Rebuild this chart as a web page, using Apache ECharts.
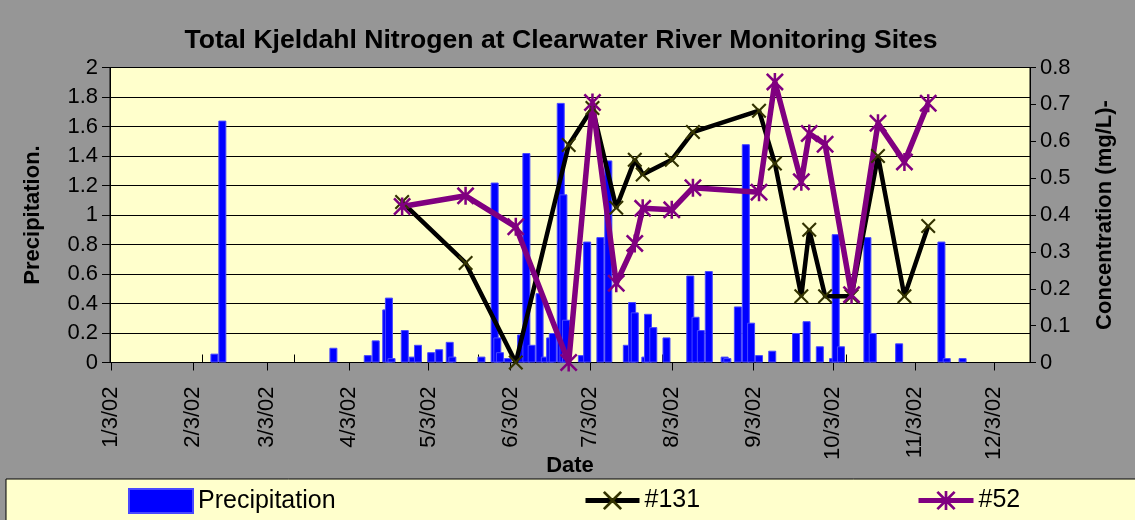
<!DOCTYPE html>
<html><head><meta charset="utf-8">
<script src="https://cdn.jsdelivr.net/npm/echarts@6/dist/echarts.min.js"></script>
<style>html,body{margin:0;padding:0;background:#ffffff}#c{width:1135px;height:520px}</style>
</head><body><div id="c"></div>
<script>
// ---- data ----
const monthTicks = ['1/3/02','2/3/02','3/3/02','4/3/02','5/3/02','6/3/02','7/3/02','8/3/02','9/3/02','10/3/02','11/3/02','12/3/02'];
const axisStart = [2002, 0, 3];
const axisEnd = [2002, 11, 16];

const precipDates = ['2/11/02','2/14/02','3/28/02','4/10/02','4/13/02','4/17/02','4/18/02','4/19/02','4/24/02','4/27/02','4/29/02',
  '5/4/02','5/7/02','5/11/02','5/12/02','5/23/02','5/28/02','5/29/02','5/30/02','6/2/02','6/7/02','6/9/02','6/11/02','6/14/02',
  '6/16/02','6/18/02','6/19/02','6/22/02','6/23/02','6/24/02','6/30/02','7/2/02','7/7/02','7/10/02','7/17/02','7/19/02','7/20/02',
  '7/24/02','7/25/02','7/27/02','8/1/02','8/10/02','8/12/02','8/14/02','8/17/02','8/23/02','8/24/02','8/28/02','8/31/02','9/2/02',
  '9/5/02','9/10/02','9/19/02','9/23/02','9/28/02','10/3/02','10/4/02','10/6/02','10/16/02','10/18/02','10/28/02','11/13/02',
  '11/15/02','11/21/02'];
const precipValues = [0.06,1.64,0.10,0.05,0.15,0.36,0.44,0.03,0.22,0.04,0.12,
  0.07,0.09,0.14,0.04,0.04,1.22,0.17,0.07,0.03,0.19,1.42,0.12,0.47,
  0.04,0.17,0.20,1.76,1.14,0.29,0.05,0.82,0.85,1.37,0.12,0.41,0.34,
  0.04,0.33,0.24,0.17,0.59,0.31,0.22,0.62,0.04,0.03,0.38,1.48,0.27,
  0.05,0.08,0.20,0.28,0.11,0.03,0.87,0.11,0.85,0.20,0.13,0.82,
  0.03,0.03];

const sampleDates = ['4/23/02','5/17/02','6/5/02','6/25/02','7/4/02','7/13/02','7/20/02','7/23/02','8/3/02','8/11/02',
  '9/5/02','9/11/02','9/21/02','9/24/02','9/30/02','10/10/02','10/20/02','10/30/02','11/8/02'];
const site131 = [0.435,0.27,0.0,0.59,0.69,0.42,0.55,0.51,0.55,0.625,0.683,0.54,0.18,0.36,0.18,0.18,0.56,0.18,0.37];
const site52  = [0.423,0.452,0.368,0.0,0.705,0.215,0.323,0.418,0.414,0.474,0.462,0.761,0.49,0.621,0.592,0.184,0.649,0.544,0.703];

// ---- build ----
function fmt(d){return (d.getUTCMonth()+1)+'/'+d.getUTCDate()+'/'+String(d.getUTCFullYear()).slice(2);}
const categories = [];
for (let t = Date.UTC(...axisStart); t <= Date.UTC(...axisEnd); t += 86400000) categories.push(fmt(new Date(t)));
const isMonthTick = (i, v) => monthTicks.indexOf(v) >= 0;

const XSYM = 'path://M2,0L10,8L18,0L20,2L12,10L20,18L18,20L10,12L2,20L0,18L8,10L0,2Z';
const STAR = 'path://M2,0L10,8L18,0L20,2L12,10L20,18L18,20L10,12L2,20L0,18L8,10L0,2Z M8.6,0L11.4,0L11.4,20L8.6,20Z';
const FONT = '"Liberation Sans", Arial, sans-serif';

const chart = echarts.init(document.getElementById('c'), null, {renderer: 'canvas'});
chart.setOption({
  animation: false,
  backgroundColor: '#969696',
  textStyle: {fontFamily: FONT, color: '#000'},
  title: {
    text: 'Total Kjeldahl Nitrogen at Clearwater River Monitoring Sites',
    left: 556, top: 22, textAlign: 'center',
    textStyle: {fontFamily: FONT, fontSize: 26.6, fontWeight: 'bold', color: '#000'}
  },
  graphic: [{
    type: 'rect', z: 0, shape: {x: 6, y: 479, width: 1140, height: 50},
    style: {fill: '#FFFFCC', stroke: '#000', lineWidth: 1}
  }],
  legend: [
    {data: ['Precipitation'], left: 128, top: 488, padding: 0, itemWidth: 64, itemHeight: 24, icon: 'rect',
     textStyle: {fontFamily: FONT, fontSize: 25, color: '#000'}},
    {data: ['#131'], left: 583, top: 488, padding: 0, itemWidth: 54, itemHeight: 24,
     lineStyle: {width: 5, color: '#000'}, itemStyle: {color: '#333300'},
     textStyle: {fontFamily: FONT, fontSize: 25, color: '#000'}},
    {data: ['#52'], left: 916, top: 488, padding: 0, itemWidth: 55, itemHeight: 24,
     lineStyle: {width: 5, color: '#800080'}, itemStyle: {color: '#800080'},
     textStyle: {fontFamily: FONT, fontSize: 25, color: '#000'}}
  ],
  grid: {left: 110, right: 105, top: 67.5, bottom: 157.5, show: true, backgroundColor: '#FFFFCC', borderColor: '#000', borderWidth: 1},
  xAxis: [{
    type: 'category', data: categories, boundaryGap: true,
    name: 'Date', nameLocation: 'middle', nameGap: 92, nameMoveOverlap: false,
    nameTextStyle: {fontFamily: FONT, fontSize: 22, fontWeight: 'bold', color: '#000'},
    axisLine: {show: true, lineStyle: {color: '#000', width: 1}},
    axisTick: {show: true, alignWithLabel: true, interval: isMonthTick, length: 8, lineStyle: {color: '#000'}},
    axisLabel: {interval: isMonthTick, rotate: 90, fontFamily: FONT, fontSize: 22, color: '#000', margin: 24},
    splitLine: {show: false}
  }, {
    type: 'value', position: 'top', min: 0, max: 10, interval: 1,
    axisLine: {show: true, lineStyle: {color: '#000'}},
    axisTick: {show: true, length: 8, lineStyle: {color: '#000'}},
    axisLabel: {show: false}, splitLine: {show: false}
  }],
  yAxis: [{
    type: 'value', min: 0, max: 2, interval: 0.2, position: 'left',
    name: 'Precipitation.', nameLocation: 'middle', nameRotate: 90, nameGap: 66,
    nameTextStyle: {fontFamily: FONT, fontSize: 22, fontWeight: 'bold', color: '#000'},
    axisLine: {show: true, lineStyle: {color: '#000'}},
    axisTick: {show: true, length: 8, lineStyle: {color: '#000'}},
    axisLabel: {fontFamily: FONT, fontSize: 22, color: '#000', margin: 12},
    splitLine: {show: true, lineStyle: {color: '#000', width: 1}}
  }, {
    type: 'value', min: 0, max: 0.8, interval: 0.1, position: 'right',
    name: 'Concentration (mg/L)-', nameLocation: 'middle', nameRotate: 90, nameGap: 64,
    nameTextStyle: {fontFamily: FONT, fontSize: 22, fontWeight: 'bold', color: '#000'},
    axisLine: {show: true, lineStyle: {color: '#000'}},
    axisTick: {show: true, length: 6, lineStyle: {color: '#000'}},
    axisLabel: {fontFamily: FONT, fontSize: 22, color: '#000', margin: 10},
    splitLine: {show: false}
  }],
  series: [{
    name: 'Precipitation', type: 'bar', xAxisIndex: 0, yAxisIndex: 0,
    data: precipDates.map((d, i) => [d, precipValues[i]]),
    barWidth: 8,
    itemStyle: {color: '#0000FF', borderColor: '#4848FF', borderWidth: 1}
  }, {
    name: '#131', type: 'line', xAxisIndex: 0, yAxisIndex: 1,
    data: sampleDates.map((d, i) => [d, site131[i]]),
    showAllSymbol: true, symbol: XSYM, symbolSize: 15,
    lineStyle: {color: '#000000', width: 4.5},
    itemStyle: {color: '#333300'}
  }, {
    name: '#52', type: 'line', xAxisIndex: 0, yAxisIndex: 1,
    data: sampleDates.map((d, i) => [d, site52[i]]),
    showAllSymbol: true, symbol: STAR, symbolSize: 18,
    lineStyle: {color: '#800080', width: 5.5},
    itemStyle: {color: '#800080'}
  }]
});
</script></body></html>
